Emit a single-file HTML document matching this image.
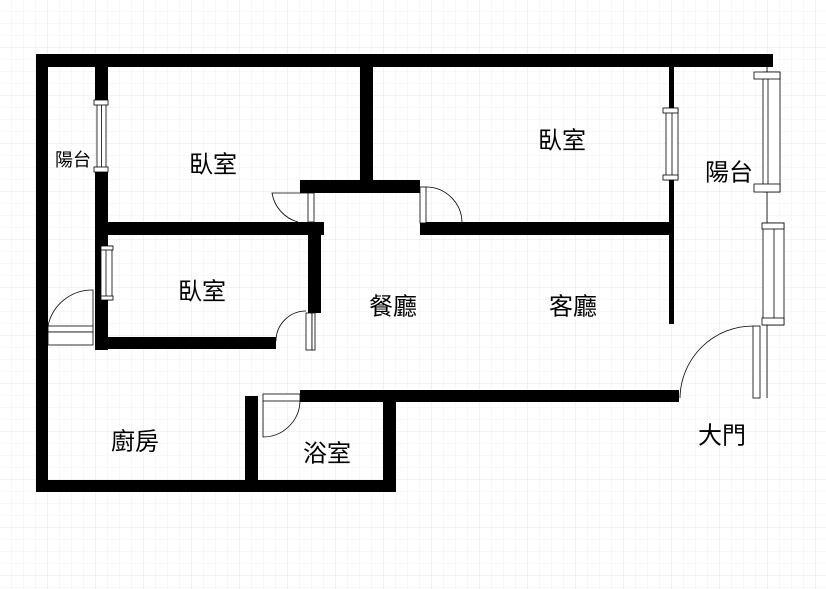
<!DOCTYPE html>
<html><head><meta charset="utf-8"><style>
html,body{margin:0;padding:0;background:#fff}
svg{display:block}
text{font-family:"Liberation Sans","Noto Sans CJK TC",sans-serif;fill:#000;text-anchor:middle;dominant-baseline:central}
</style></head><body>
<svg width="826" height="589" viewBox="0 0 826 589" xmlns="http://www.w3.org/2000/svg">
<defs>
<pattern id="g1" width="12" height="12" patternUnits="userSpaceOnUse" x="0" y="0"><path d="M12 0V12M0 12H12" stroke="#f2f2f2" fill="none" stroke-width="1"/></pattern>
<pattern id="g2" width="48" height="48" patternUnits="userSpaceOnUse" x="0" y="0"><path d="M48 0V48M0 48H48" stroke="#e4e4e4" fill="none" stroke-width="1"/></pattern>
</defs>
<rect width="826" height="589" fill="url(#g1)"/>
<rect width="826" height="589" fill="url(#g2)"/>
<g fill="#000">
<rect x="36" y="54" width="737" height="13"/>
<rect x="36" y="54" width="12" height="438"/>
<rect x="36" y="480" width="360" height="12"/>
<rect x="95" y="54" width="13" height="46"/>
<rect x="95" y="172" width="13" height="178"/>
<rect x="95" y="222" width="229" height="13"/>
<rect x="308" y="222" width="13" height="91"/>
<rect x="95" y="337" width="181" height="12"/>
<rect x="360" y="54" width="13" height="132"/>
<rect x="300" y="180" width="120" height="13"/>
<rect x="420" y="222" width="253" height="13"/>
<rect x="669" y="67" width="5" height="41"/>
<rect x="669" y="180" width="5" height="144"/>
<rect x="300" y="390" width="379" height="12"/>
<rect x="383" y="390" width="13" height="102"/>
<rect x="245" y="396" width="13" height="96"/>
</g>
<g fill="#fff" stroke="#000" stroke-width="0.8">
<rect x="97" y="100" width="9" height="72"/><line x1="101.5" y1="104" x2="101.5" y2="168"/>
<rect x="94" y="100" width="14" height="5"/><rect x="94" y="167" width="14" height="5"/>
<rect x="101" y="246" width="11" height="54"/><line x1="106" y1="250" x2="106" y2="296"/>
<rect x="101" y="246" width="12" height="4"/><rect x="101" y="296" width="12" height="4"/>
<rect x="666" y="108" width="12" height="72"/><line x1="672" y1="112" x2="672" y2="176"/>
<rect x="663" y="108" width="15" height="5"/><rect x="663" y="175" width="15" height="5"/>
<line x1="767" y1="67" x2="767" y2="398"/>
<rect x="763" y="72" width="17" height="120"/><line x1="768" y1="76" x2="768" y2="188"/>
<rect x="754" y="72" width="26" height="7"/><rect x="754" y="184" width="26" height="8"/>
<rect x="763" y="223" width="21" height="102"/><line x1="774" y1="229" x2="774" y2="319"/>
<rect x="762" y="223" width="22" height="6"/><rect x="762" y="318" width="22" height="7"/>
<rect x="48" y="326" width="45" height="6"/><rect x="48" y="332" width="45" height="13"/>
<path d="M48 326 A45 45 0 0 1 93 290 V326" fill="none"/>
<rect x="308" y="193" width="6" height="29"/>
<path d="M308 193 H272 A36 36 0 0 0 298 222" fill="none"/>
<rect x="306" y="313" width="6" height="37"/><rect x="312" y="313" width="3" height="37"/>
<path d="M306 311 A30 30 0 0 0 276 341" fill="none"/>
<rect x="420" y="187" width="6" height="36"/>
<path d="M426 187 A36 36 0 0 1 462 223" fill="none"/>
<rect x="753" y="326" width="7" height="72"/>
<path d="M753 326 A73 73 0 0 0 680 398" fill="none"/>
<rect x="263" y="394" width="37" height="7"/>
<path d="M263 401 V437 A37 37 0 0 0 300 401" fill="none"/>
</g>
<text x="73" y="160" font-size="18">陽台</text>
<text x="213" y="165" font-size="24">臥室</text>
<text x="562" y="141" font-size="24">臥室</text>
<text x="729" y="173" font-size="24">陽台</text>
<text x="202" y="292" font-size="24">臥室</text>
<text x="393" y="307" font-size="24">餐廳</text>
<text x="573" y="307" font-size="24">客廳</text>
<text x="135" y="442" font-size="24">廚房</text>
<text x="327" y="454" font-size="24">浴室</text>
<text x="722" y="436" font-size="24">大門</text>
</svg>
</body></html>
